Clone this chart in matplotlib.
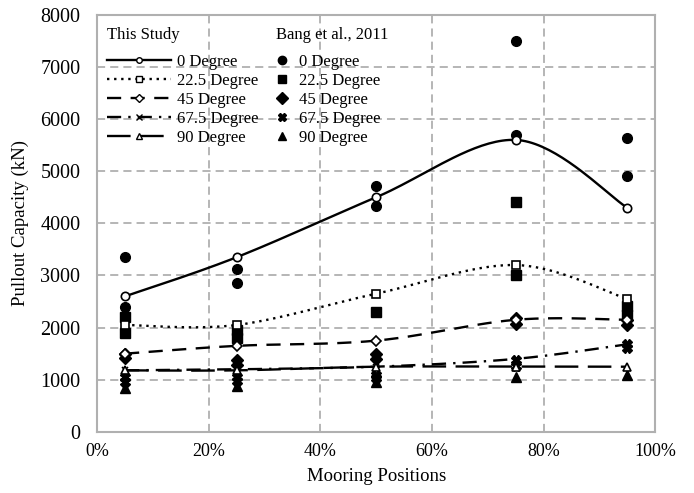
import numpy as np
import matplotlib
matplotlib.use("Agg")
import matplotlib.pyplot as plt
from matplotlib.lines import Line2D
from matplotlib.ticker import PercentFormatter

plt.rcParams["font.family"] = ["Liberation Serif", "DejaVu Serif"]

positions = [5, 25, 50, 75, 95]
degrees = ["0 Degree", "22.5 Degree", "45 Degree", "67.5 Degree", "90 Degree"]

# this study (smoothed lines)
study_0 = [2600, 3350, 4500, 5600, 4300]
study_22 = [2050, 2050, 2650, 3200, 2550]
study_45 = [1500, 1650, 1750, 2150, 2150]
study_67 = [1180, 1200, 1250, 1400, 1680]
study_90 = [1180, 1180, 1250, 1250, 1250]

# Bang et al., 2011 (x, value)
bang_0_x = [5, 5, 25, 25, 50, 50, 75, 75, 95, 95]
bang_0 = [3350, 2400, 3120, 2850, 4720, 4330, 7500, 5700, 5640, 4900]
bang_22_x = [5, 5, 25, 25, 50, 75, 75, 95, 95]
bang_22 = [2200, 1900, 1950, 1800, 2290, 4400, 3000, 2420, 2250]
bang_45_x = [5, 5, 25, 25, 50, 50, 75, 75, 95, 95]
bang_45 = [1500, 1420, 1380, 1280, 1500, 1400, 2180, 2060, 2150, 2050]
bang_67_x = [5, 5, 25, 25, 50, 50, 75, 75, 95, 95]
bang_67 = [1050, 960, 1050, 980, 1100, 1030, 1380, 1260, 1680, 1600]
bang_90_x = [5, 25, 50, 75, 95]
bang_90 = [850, 880, 950, 1060, 1100]


def smooth(xs, ys, n=40):
    # excel-like smoothed line (cubic bezier, catmull-rom tangents) in pixel-ish space
    sx, sy = 5.58, 0.0521
    p = np.column_stack([np.asarray(xs, float) * sx, np.asarray(ys, float) * sy])
    pts = np.vstack([p[0], p, p[-1]])
    t = np.linspace(0, 1, n)[:, None]
    out = []
    for i in range(1, len(pts) - 2):
        p0, p1, p2, p3 = pts[i - 1], pts[i], pts[i + 1], pts[i + 2]
        c1 = p1 + (p2 - p0) / 6
        c2 = p2 - (p3 - p1) / 6
        seg = ((1 - t) ** 3) * p1 + 3 * ((1 - t) ** 2) * t * c1 + 3 * (1 - t) * t ** 2 * c2 + t ** 3 * p2
        out.append(seg)
    seg = np.vstack(out)
    return seg[:, 0] / sx, seg[:, 1] / sy


fig = plt.figure(figsize=(6.94, 4.93), dpi=100)
ax = fig.add_axes([0.140, 0.124, 0.804, 0.846])

grid_kw = dict(color="#b0b0b0", lw=1.3, ls=(0, (4.5, 2.8)))
for v in range(1000, 8000, 1000):
    ax.axhline(v, zorder=0, **grid_kw)
for v in range(20, 100, 20):
    ax.axvline(v, zorder=0, **grid_kw)

lw = 1.7
styles = [
    (study_0, "-", "o"),
    (study_22, (0, (1, 2)), "s"),
    (study_45, (0, (6, 4)), "D"),
    (study_67, (0, (6, 3, 1, 3)), "x"),
    (study_90, (0, (10, 4)), "^"),
]
study_handles = []
for vals, ls, mk in styles:
    xs, ys = smooth(positions, vals)
    ax.plot(xs, ys, color="black", lw=lw, ls=ls, zorder=3)
    if mk == "x":
        ax.plot(positions, vals, ls="none", marker="x", ms=4, mew=1.2, color="black", zorder=4)
    else:
        ax.plot(positions, vals, ls="none", marker=mk, ms=6 if mk != "D" else 5.5,
                mfc="white", mec="black", mew=1.2, zorder=5)
    study_handles.append(Line2D([], [], color="black", lw=lw, ls=ls, marker=mk,
                                ms=4, mfc="white", mec="black", mew=1.0))

bang = [
    (bang_0_x, bang_0, "o", 7),
    (bang_22_x, bang_22, "s", 7),
    (bang_45_x, bang_45, "D", 6.5),
    (bang_67_x, bang_67, "X", 7),
    (bang_90_x, bang_90, "^", 7),
]
bang_handles = []
for bx, by, mk, ms in bang:
    ax.plot(bx, by, ls="none", marker=mk, ms=ms, color="black", zorder=4)
    bang_handles.append(Line2D([], [], ls="none", marker=mk, ms=6, color="black"))

ax.set_xlim(0, 100)
ax.set_ylim(0, 8000)
ax.set_xticks(range(0, 101, 20))
ax.set_yticks(range(0, 8001, 1000))
ax.xaxis.set_major_formatter(PercentFormatter(decimals=0))
ax.tick_params(length=0)
ax.tick_params(axis="x", labelsize=13, pad=8)
ax.tick_params(axis="y", labelsize=14.5, pad=12)
for s in ax.spines.values():
    s.set_color("#b0b0b0")
    s.set_linewidth(1.5)

ax.set_xlabel("Mooring Positions", fontsize=13.5, labelpad=6)
ax.set_ylabel("Pullout Capacity (kN)", fontsize=13.5, labelpad=8)

# legend headers
ax.text(0.018, 0.952, "This Study", transform=ax.transAxes, fontsize=12, va="center", ha="left")
ax.text(0.32, 0.952, "Bang et al., 2011", transform=ax.transAxes, fontsize=12, va="center", ha="left")

leg_kw = dict(frameon=False, fontsize=12, handletextpad=0.4, labelspacing=0.18,
              borderpad=0, borderaxespad=0, loc="upper left")
leg1 = ax.legend(study_handles, degrees, handlelength=3.8,
                 bbox_to_anchor=(0.018, 0.906), **leg_kw)
ax.add_artist(leg1)
ax.legend(bang_handles, degrees, handlelength=1.2,
          bbox_to_anchor=(0.314, 0.906), **leg_kw)

fig.savefig("out.png", dpi=100)
